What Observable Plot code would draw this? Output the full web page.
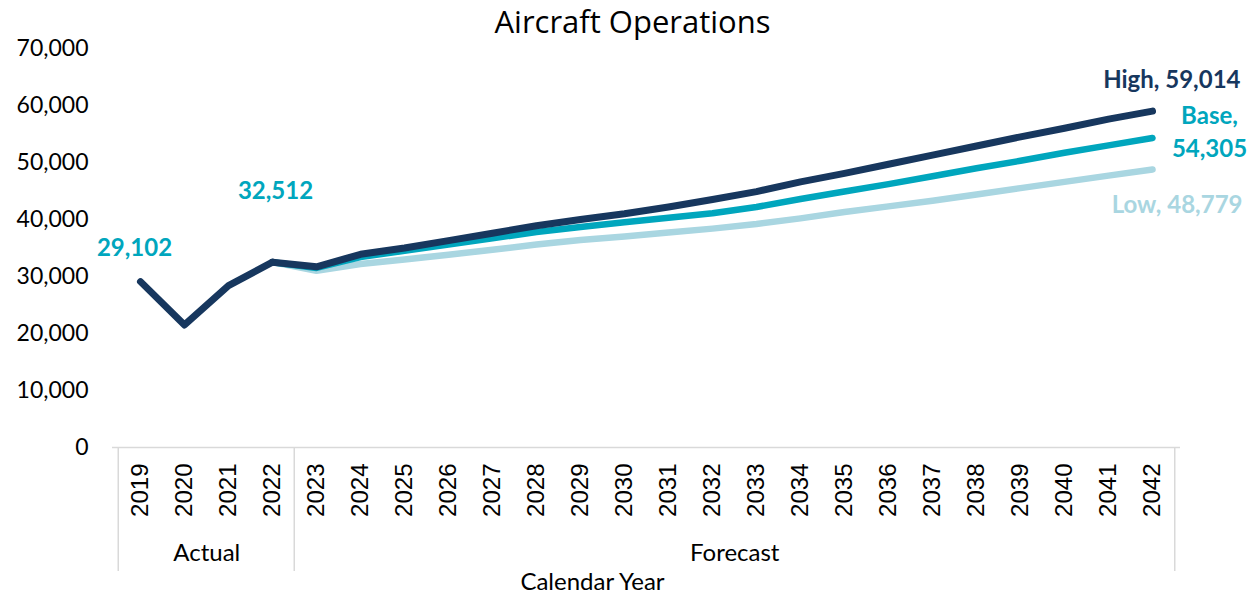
<!DOCTYPE html>
<html><head><meta charset="utf-8">
<script src="https://cdn.jsdelivr.net/npm/d3@7"></script>
<script src="https://cdn.jsdelivr.net/npm/@observablehq/plot@0.6"></script>
<style>body{margin:0;background:#fff;}</style>
</head><body><div id="chart"></div>
<script>
// ---- data ----
const years = ["2019","2020","2021","2022","2023","2024","2025","2026","2027","2028","2029","2030","2031","2032","2033","2034","2035","2036","2037","2038","2039","2040","2041","2042"];
const actualYears = ["2019","2020","2021","2022"];
const actual = [29102, 21500, 28400, 32512];
const forecastYears = ["2022","2023","2024","2025","2026","2027","2028","2029","2030","2031","2032","2033","2034","2035","2036","2037","2038","2039","2040","2041","2042"];
const high = [32512, 31700, 33900, 35000, 36300, 37600, 38900, 40000, 41000, 42200, 43500, 44900, 46600, 48100, 49700, 51300, 52900, 54500, 56000, 57600, 59014];
const base = [32512, 31500, 33400, 34500, 35600, 36700, 37800, 38700, 39500, 40300, 41100, 42200, 43600, 44900, 46200, 47600, 49000, 50300, 51700, 53000, 54305];
const low  = [32512, 31000, 32200, 33000, 33800, 34700, 35600, 36400, 37000, 37700, 38400, 39200, 40200, 41300, 42300, 43300, 44400, 45500, 46600, 47700, 48779];
const yTicks = [0, 10000, 20000, 30000, 40000, 50000, 60000, 70000];
const groups = [{label: "Actual", mid: "2020"}, {label: "Forecast", mid: "2032"}];
const groupEdgesLeft = ["2019", "2023"];
const groupEdgesRight = ["2042"];
const title = "Aircraft Operations";
const xTitle = "Calendar Year";

// ---- styles ----
const NAVY = "#17375e", TEAL = "#00a6bd", LIGHT = "#a9d6e1", AXIS = "#d9d9d9";
const W = 1258, H = 596, mL = 112, mR = 78, mT = 48, mB = 149;
const step = (W - mL - mR) / years.length;
const fmt = d3.format(",");
const rows = (ys, vs) => ys.map((y, i) => ({year: y, value: vs[i]}));
const last = (ys, vs) => ({year: ys[ys.length - 1], value: vs[vs.length - 1]});

const plot = Plot.plot({
  width: W, height: H,
  marginLeft: mL, marginRight: mR, marginTop: mT, marginBottom: mB,
  style: {fontFamily: "Lato, 'Open Sans', sans-serif", background: "#fff", color: "#000"},
  x: {type: "point", domain: years, padding: 0.5, label: null, axis: null},
  y: {domain: [0, 70000], label: null, axis: null},
  marks: [
    Plot.axisY(yTicks, {tickSize: 0, tickPadding: 24, fontSize: 23, tickFormat: fmt, label: null}),
    Plot.text(years, {x: d => d, frameAnchor: "bottom", rotate: -90, textAnchor: "end", lineAnchor: "middle", dy: 16, fontSize: 24, fontFamily: "'Liberation Sans', Arial, sans-serif"}),
    Plot.ruleY([0], {stroke: AXIS, strokeWidth: 1.5}),
    Plot.ruleX(groupEdgesLeft, {x: d => d, dx: -step / 2, stroke: AXIS, strokeWidth: 1.5, insetTop: H - mT - mB, insetBottom: -124}),
    Plot.ruleX(groupEdgesRight, {x: d => d, dx: step / 2, stroke: AXIS, strokeWidth: 1.5, insetTop: H - mT - mB, insetBottom: -124}),
    Plot.line(rows(forecastYears, low), {x: "year", y: "value", stroke: LIGHT, strokeWidth: 6.5, strokeLinecap: "round", strokeLinejoin: "round"}),
    Plot.line(rows(forecastYears, base), {x: "year", y: "value", stroke: TEAL, strokeWidth: 6.5, strokeLinecap: "round", strokeLinejoin: "round"}),
    Plot.line(rows(forecastYears, high), {x: "year", y: "value", stroke: NAVY, strokeWidth: 7, strokeLinecap: "round", strokeLinejoin: "round"}),
    Plot.line(rows(actualYears, actual), {x: "year", y: "value", stroke: NAVY, strokeWidth: 7, strokeLinecap: "round", strokeLinejoin: "round"}),
    // data labels
    Plot.text([rows(actualYears, actual)[0]], {x: "year", y: "value", text: d => fmt(d.value), dy: -33, dx: -6, fill: TEAL, fontWeight: "bold", fontSize: 24}),
    Plot.text([rows(actualYears, actual)[3]], {x: "year", y: "value", text: d => fmt(d.value), dy: -71, dx: 3, fill: TEAL, fontWeight: "bold", fontSize: 24}),
    Plot.text([last(forecastYears, high)], {x: "year", y: "value", text: d => `High, ${fmt(d.value)}`, textAnchor: "end", dx: 88, dy: -31, fill: NAVY, fontWeight: "bold", fontSize: 24}),
    Plot.text([last(forecastYears, base)], {x: "year", y: "value", text: d => `Base,\n${fmt(d.value)}`, textAnchor: "middle", lineHeight: 1.38, dx: 57, dy: -8, fill: TEAL, fontWeight: "bold", fontSize: 24}),
    Plot.text([last(forecastYears, low)], {x: "year", y: "value", text: d => `Low, ${fmt(d.value)}`, textAnchor: "end", dx: 90, dy: 36, fill: LIGHT, fontWeight: "bold", fontSize: 24}),
    // group labels, axis title, chart title
    Plot.text(groups, {x: "mid", text: "label", frameAnchor: "bottom", lineAnchor: "middle", dy: 106, dx: step / 2, fontSize: 24}),
    Plot.text([xTitle], {frameAnchor: "bottom", lineAnchor: "middle", dy: 135, dx: -54, fontSize: 24}),
    Plot.text([title], {frameAnchor: "top", lineAnchor: "middle", dy: -25, dx: -14, fontSize: 31, fontFamily: "'Open Sans', Lato, sans-serif"})
  ]
});
document.getElementById("chart").appendChild(plot);
</script>
</body></html>
